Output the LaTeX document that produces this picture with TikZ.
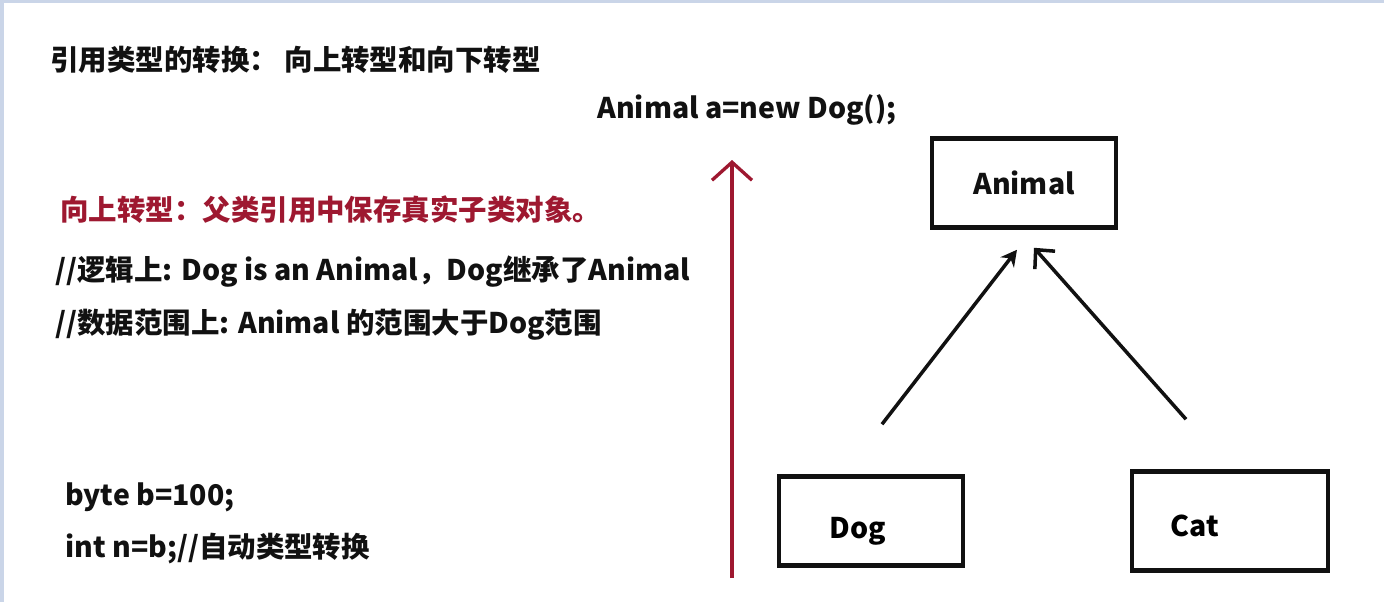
\documentclass[tikz,border=0pt]{standalone}
\usepackage{fontspec}
\setmainfont{Noto Sans CJK SC}
\usetikzlibrary{arrows.meta,positioning,calc}
\definecolor{Ink}{HTML}{111111}
\definecolor{Crimson}{HTML}{9E1830}
\definecolor{Frame}{HTML}{CAD5E8}
\tikzset{
  txt/.style={anchor=west,inner sep=0pt,font=\fontsize{16.2}{18}\selectfont\bfseries,text=Ink},
  note/.style={txt,text=Crimson},
  cls/.style={draw=Ink,line width=2.6pt,fill=white,minimum width=3.68cm,minimum height=1.78cm,font=\fontsize{16.2}{18}\selectfont\bfseries,text=Ink},
  arr/.style={-{Stealth[length=3.2mm,width=3.4mm]},draw=Ink,line width=2pt},
  barb/.style={-{Straight Barb[length=2.8mm,width=5.4mm]},draw=Ink,line width=2pt},
  uparr/.style={-{Straight Barb[length=3.6mm,width=8mm]},draw=Crimson,line width=1.9pt}
}

\begin{document}
\begin{tikzpicture}[x=0.02cm,y=-0.02cm]
  \useasboundingbox (0,0) rectangle (1384,602);
  \fill[white] (0,0) rectangle (1384,602);
  \fill[Frame] (0,0) rectangle (1384,3);
  \fill[Frame] (0,0) rectangle (4,602);

  % left column
  \node[txt] (title) at (50,60) {引用类型的转换： 向上转型和向下转型};
  \node[txt] (decl) at (597,110) {Animal a=new Dog();};
  \node[note] (up) at (60,210) {向上转型：父类引用中保存真实子类对象。};
  \node[txt] (logic) at (55,272) {//逻辑上: Dog is an Animal，Dog继承了Animal};
  \node[txt,below=1.06cm of logic.west,anchor=west] (range) {//数据范围上: Animal 的范围大于Dog范围};
  \node[txt] (byte) at (65,497) {byte b=100;};
  \node[txt,below=1.04cm of byte.west,anchor=west] (int) {int n=b;//自动类型转换};

  % upcast arrow
  \coordinate (upfoot) at (732,578);
  \coordinate (uphead) at (732,160);
  \draw[uparr] (upfoot) -- (uphead);

  % class boxes
  \node[cls] (animal) at (1024,183) {Animal};
  \node[cls,label={[font=\fontsize{16.2}{18}\selectfont\bfseries,xshift=-0.26cm,yshift=-0.2cm]center:Dog}] (dog) at (871,521) {};
  \node[cls,minimum width=3.92cm,minimum height=1.98cm,label={[font=\fontsize{16.2}{18}\selectfont\bfseries,xshift=-0.7cm,yshift=-0.1cm]center:Cat}] (cat) at (1230,521) {};

  \coordinate[above=1.0cm of dog.north,xshift=0.22cm] (dogtail);
  \coordinate[above=1.0cm of cat.north,xshift=-0.88cm] (cattail);
  \draw[arr] (dogtail) -- ($(animal.south)+(-7,20)$);
  \draw[barb] (cattail) -- ($(animal.south)+(10,18)$);
\end{tikzpicture}
\end{document}
